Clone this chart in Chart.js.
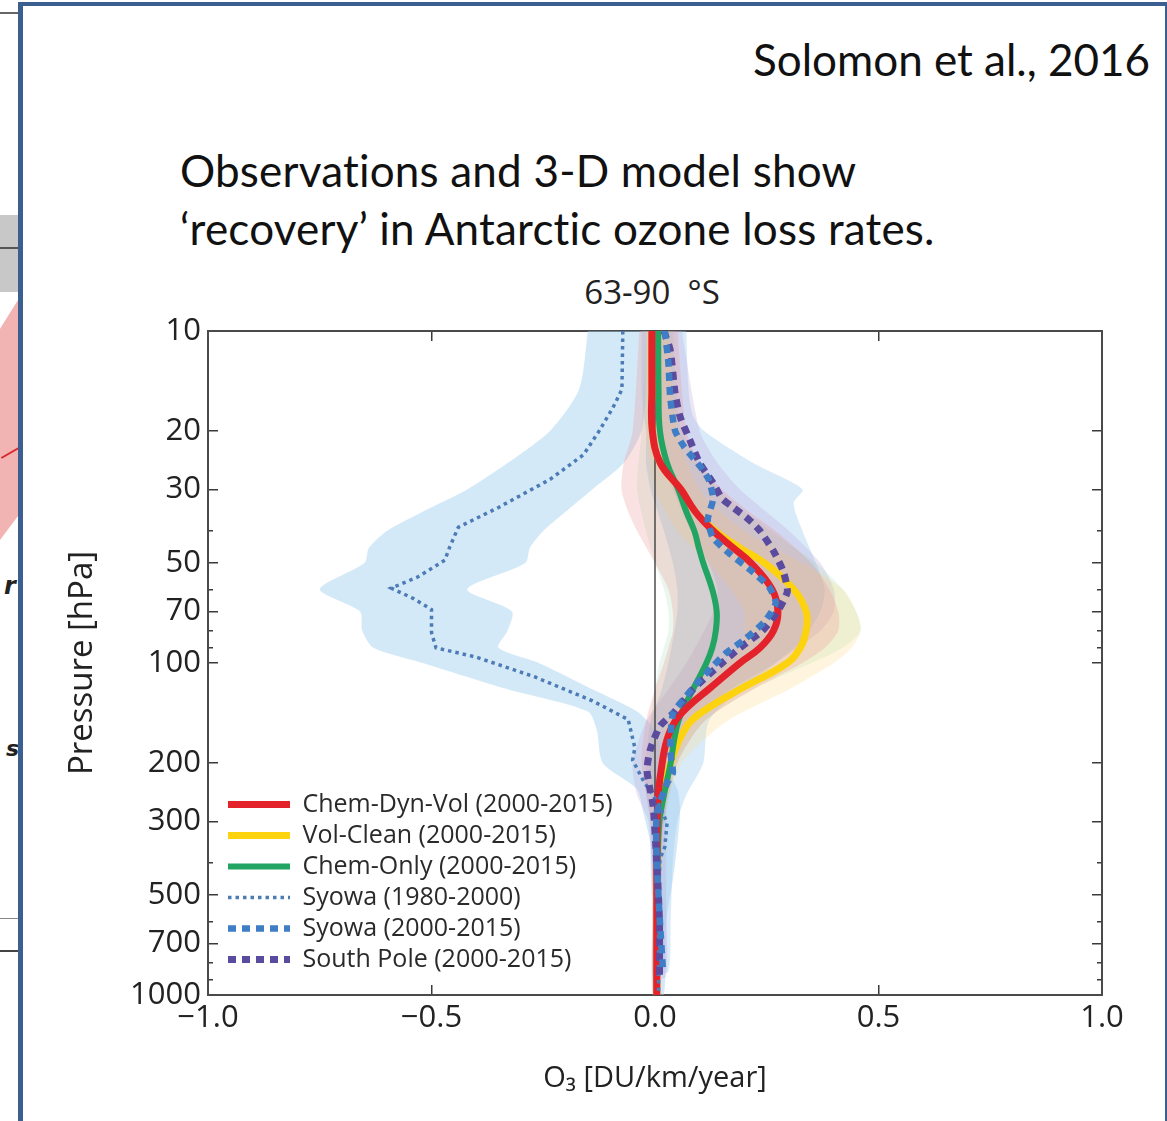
<!DOCTYPE html>
<html>
<head>
<meta charset="utf-8">
<title>Antarctic ozone loss rates</title>
<script src="https://cdn.jsdelivr.net/npm/chart.js@4/dist/chart.umd.min.js"></script>
<style>
  html, body { margin: 0; padding: 0; background: #fff; }
  body { position: relative; width: 1167px; height: 1121px; overflow: hidden; }
  .abs { position: absolute; }
  #slide { left: 18px; top: 2px; width: 1149px; height: 1140px; box-sizing: border-box;
           border-left: 5px solid #3b5f91; border-top: 4px solid #3b5f91; border-right: 2px solid #3b5f91; }
  .slideText { position: absolute; font-family: Lato, "Open Sans", sans-serif; color: #111; white-space: nowrap; }
  #cite { left: 753px; top: 37px; font-size: 44px; line-height: 44px; }
  #headline { left: 180px; top: 141px; font-size: 44px; line-height: 58px; letter-spacing: 0.2px; }
  #panelTitle { position: absolute; left: 502px; width: 300px; top: 272px; text-align: center; white-space: pre;
                font-family: "Open Sans", sans-serif; font-size: 33px; line-height: 40px; color: #222; }
  canvas { position: absolute; left: 0; top: 0; }
</style>
</head>
<body>

<!-- edge of the neighbouring slide -->
<div class="abs" style="left:0;top:12px;width:18px;height:2px;background:#666"></div>
<div class="abs" style="left:0;top:215px;width:18px;height:77px;background:#c8c8c8"></div>
<div class="abs" style="left:0;top:247px;width:18px;height:2px;background:#555"></div>
<div class="abs" style="left:0;top:300px;width:18px;height:240px;background:#f2b3b3;clip-path:polygon(0 12%,100% 0,100% 90%,0 100%)"></div>
<div class="abs" style="left:0;top:452px;width:20px;height:2px;background:#d9262b;transform:rotate(-30deg)"></div>
<div class="abs" style="left:4px;top:572px;font:italic bold 24px 'DejaVu Sans';color:#222">r</div>
<div class="abs" style="left:6px;top:736px;font:italic bold 22px 'DejaVu Sans';color:#222">s</div>
<div class="abs" style="left:0;top:918px;width:18px;height:1px;background:#888"></div>
<div class="abs" style="left:0;top:950px;width:18px;height:2px;background:#444"></div>

<div id="slide" class="abs"></div>

<div id="cite" class="slideText">Solomon et al., 2016</div>
<div id="headline" class="slideText">Observations and 3-D model show<br>‘recovery’ in Antarctic ozone loss rates.</div>
<div id="panelTitle">63-90  °S</div>

<canvas id="ozoneChart" width="1167" height="1121"></canvas>

<script>
// Ozone trend profiles, 63-90 S
// pressure in hPa, trend in DU/km/year

const yTicks = [10, 20, 30, 50, 70, 100, 200, 300, 500, 700, 1000];
const yMinorTicks = [40, 60, 80, 90, 400, 600, 800, 900];
const xTicks = [-1.0, -0.5, 0.0, 0.5, 1.0];

// model runs, 2000-2015
const modelP     = [10, 15, 20, 25, 30, 35, 40, 45, 50, 60, 70, 80, 90, 100, 120, 135, 150, 170, 200, 250, 300, 400, 500, 700, 1000];
const chemDynVol = [-0.007, -0.007, -0.006, 0.012, 0.058, 0.09, 0.13, 0.175, 0.215, 0.262, 0.275, 0.265, 0.235, 0.19, 0.12, 0.075, 0.045, 0.027, 0.016, 0.007, 0.005, 0.004, 0.004, 0.004, 0.004];
const volClean   = [-0.007, -0.007, -0.006, 0.012, 0.058, 0.09, 0.135, 0.19, 0.245, 0.31, 0.338, 0.338, 0.325, 0.296, 0.19, 0.125, 0.08, 0.055, 0.035, 0.015, 0.008, 0.005, 0.004, 0.004, 0.004];
const chemOnly   = [0.007, 0.008, 0.011, 0.027, 0.052, 0.07, 0.088, 0.098, 0.108, 0.128, 0.138, 0.136, 0.128, 0.115, 0.085, 0.066, 0.052, 0.043, 0.035, 0.02, 0.01, 0.006, 0.005, 0.004, 0.004];

// Syowa sondes 1980-2000
const syowa80P = [10, 15, 17, 20, 23.6, 28, 34, 39, 45, 49, 55, 59.5, 64, 69, 81, 90, 96, 110, 130, 148, 180, 196, 225, 270, 303, 358, 390, 500, 700, 1000];
const syowa80  = [-0.072, -0.074, -0.094, -0.125, -0.16, -0.235, -0.35, -0.44, -0.46, -0.47, -0.53, -0.59, -0.54, -0.50, -0.50, -0.49, -0.40, -0.27, -0.14, -0.06, -0.045, -0.05, -0.027, 0.011, 0.027, 0.022, 0.011, 0.008, 0.008, 0.008];

// Syowa sondes 2000-2015
const syowa00P = [10, 12.5, 15.8, 20, 22.3, 26, 28, 32, 37, 42, 47, 52, 59, 66, 75, 85, 93, 102, 115, 129, 142, 183, 214, 230, 284, 400, 600, 850];
const syowa00  = [0.022, 0.03, 0.034, 0.045, 0.065, 0.105, 0.12, 0.13, 0.118, 0.13, 0.168, 0.21, 0.255, 0.27, 0.245, 0.2, 0.16, 0.13, 0.094, 0.063, 0.04, 0.034, 0.04, 0.027, 0.004, 0.004, 0.011, 0.018];

// South Pole sondes 2000-2015
const southPoleP = [10, 11.4, 15.4, 18.1, 21.3, 25, 28.7, 32, 34, 37, 40, 46, 53, 61, 70, 80, 90, 100, 120, 142, 155, 183, 210, 241, 270, 400, 600, 880];
const southPole  = [0.02, 0.034, 0.045, 0.056, 0.078, 0.1, 0.13, 0.15, 0.175, 0.21, 0.235, 0.265, 0.287, 0.296, 0.274, 0.24, 0.19, 0.15, 0.085, 0.04, 0.011, -0.011, -0.018, -0.011, -0.004, 0.004, 0.01, 0.01];

// uncertainty ranges (lower / upper edge at each pressure)
const syowa80BandP = [10, 15, 20, 25, 30, 35, 40, 45, 50, 60, 70, 80, 90, 100, 120, 140, 160, 200, 240, 280, 350, 450, 600, 1000];
const syowa80Lo    = [-0.15, -0.17, -0.235, -0.33, -0.42, -0.52, -0.6, -0.64, -0.65, -0.75, -0.66, -0.655, -0.63, -0.52, -0.33, -0.15, -0.13, -0.117, -0.04, -0.027, -0.01, -0.005, -0.005, -0.005];
const syowa80Hi    = [-0.02, -0.02, -0.03, -0.07, -0.14, -0.2, -0.25, -0.28, -0.29, -0.42, -0.32, -0.33, -0.35, -0.26, -0.14, -0.04, 0.0, 0.02, 0.05, 0.056, 0.05, 0.04, 0.025, 0.02];

const syowa00BandP = [10, 15, 18, 20, 25, 30, 33, 40, 50, 60, 70, 85, 100, 120, 150, 200, 250, 300, 400, 600, 850];
const syowa00Lo    = [-0.03, -0.03, -0.025, -0.02, -0.02, -0.01, 0.0, 0.02, 0.04, 0.05, 0.05, 0.04, 0.03, 0.015, -0.01, -0.02, -0.02, -0.01, -0.01, -0.005, 0.0];
const syowa00Hi    = [0.07, 0.075, 0.085, 0.11, 0.22, 0.33, 0.31, 0.33, 0.36, 0.38, 0.37, 0.33, 0.27, 0.19, 0.12, 0.108, 0.07, 0.05, 0.04, 0.035, 0.03];

const southPoleBandP = [10, 20, 25, 30, 40, 50, 60, 70, 80, 100, 120, 150, 200, 250, 300, 500, 880];
const southPoleLo    = [-0.01, 0.0, 0.02, 0.04, 0.08, 0.12, 0.14, 0.13, 0.11, 0.07, 0.03, -0.02, -0.05, -0.04, -0.015, -0.005, -0.005];
const southPoleHi    = [0.06, 0.1, 0.14, 0.19, 0.3, 0.37, 0.4, 0.4, 0.37, 0.27, 0.17, 0.08, 0.03, 0.025, 0.025, 0.025, 0.025];

const chemDynVolBandP = [10, 20, 25, 30, 35, 40, 50, 60, 70, 80, 90, 100, 120, 150, 200, 300, 500, 1000];
const chemDynVolLo    = [-0.035, -0.05, -0.07, -0.075, -0.06, -0.04, 0.0, 0.03, 0.04, 0.04, 0.03, 0.02, 0.0, -0.02, -0.03, -0.01, -0.005, -0.005];
const chemDynVolHi    = [0.05, 0.07, 0.1, 0.15, 0.21, 0.27, 0.35, 0.39, 0.41, 0.41, 0.38, 0.33, 0.22, 0.11, 0.05, 0.02, 0.015, 0.012];

const volCleanBandP = [10, 20, 30, 40, 50, 60, 70, 80, 90, 100, 120, 150, 200, 300];
const volCleanLo    = [-0.02, -0.02, 0.0, 0.05, 0.12, 0.17, 0.2, 0.2, 0.19, 0.16, 0.1, 0.03, 0.01, 0.0];
const volCleanHi    = [0.03, 0.05, 0.1, 0.2, 0.33, 0.42, 0.45, 0.46, 0.44, 0.4, 0.3, 0.16, 0.06, 0.01];

const chemOnlyBandP = [10, 20, 30, 40, 50, 60, 70, 80, 90, 100, 120, 150, 200, 300];
const chemOnlyLo    = [-0.02, -0.03, -0.04, -0.02, 0.0, 0.02, 0.03, 0.03, 0.02, 0.01, 0.0, -0.01, -0.01, 0.0];
const chemOnlyHi    = [0.04, 0.06, 0.14, 0.26, 0.36, 0.42, 0.45, 0.46, 0.42, 0.35, 0.22, 0.11, 0.05, 0.02];


// helpers to turn the arrays into {x, y} points
function profile(pressures, values) {
    return pressures.map((p, i) => ({ x: values[i], y: p }));
}

// closed outline: down the lower edge, back up the upper edge
function bandShape(pressures, lo, hi) {
    const down = pressures.map((p, i) => ({ x: lo[i], y: p }));
    const up = pressures.map((p, i) => ({ x: hi[i], y: p })).reverse();
    return down.concat(up);
}

function band(pressures, lo, hi, color, order) {
    return {
        data: bandShape(pressures, lo, hi),
        backgroundColor: color,
        borderWidth: 0,
        fill: 'shape',
        tension: 0.25,
        order: order
    };
}

const datasets = [
    { label: 'Chem-Dyn-Vol (2000-2015)', data: profile(modelP, chemDynVol), borderColor: '#e3222b', borderWidth: 7, tension: 0.4, order: 3, inLegend: true },
    { label: 'Vol-Clean (2000-2015)', data: profile(modelP, volClean), borderColor: '#fdd20e', borderWidth: 7, tension: 0.4, order: 5, inLegend: true },
    { label: 'Chem-Only (2000-2015)', data: profile(modelP, chemOnly), borderColor: '#22a462', borderWidth: 6, tension: 0.4, order: 4, inLegend: true },
    { label: 'Syowa (1980-2000)', data: profile(syowa80P, syowa80), borderColor: '#4d7bb5', borderWidth: 3.5, borderDash: [3.5, 4], tension: 0, order: 2, inLegend: true },
    { label: 'Syowa (2000-2015)', data: profile(syowa00P, syowa00), borderColor: '#3f7ec6', borderWidth: 6.5, borderDash: [8, 6], tension: 0.2, order: 0, inLegend: true },
    { label: 'South Pole (2000-2015)', data: profile(southPoleP, southPole), borderColor: '#5a4b9e', borderWidth: 7, borderDash: [8, 6], tension: 0.2, order: 1, inLegend: true },
    // zero line
    { data: [{ x: 0, y: 10 }, { x: 0, y: 1000 }], borderColor: '#333', borderWidth: 1.3, order: 6 },
    band(chemDynVolBandP, chemDynVolLo, chemDynVolHi, 'rgba(240, 140, 140, 0.25)', 7),
    band(volCleanBandP, volCleanLo, volCleanHi, 'rgba(255, 210, 110, 0.22)', 8),
    band(chemOnlyBandP, chemOnlyLo, chemOnlyHi, 'rgba(140, 210, 160, 0.18)', 9),
    band(southPoleBandP, southPoleLo, southPoleHi, 'rgba(185, 160, 215, 0.28)', 10),
    band(syowa00BandP, syowa00Lo, syowa00Hi, 'rgba(160, 206, 240, 0.4)', 11),
    band(syowa80BandP, syowa80Lo, syowa80Hi, 'rgba(160, 206, 240, 0.45)', 12)
];


// axis helpers
function keepTicks(values) {
    return function (scale) { scale.ticks = values.map(v => ({ value: v })); };
}
function fixWidth(w) {
    return function (scale) { scale.width = w; };
}
function fixHeight(h) {
    return function (scale) { scale.height = h; };
}
function inwardTicks(len) {
    return { drawOnChartArea: false, drawTicks: true, tickLength: -len, color: '#3a3a3a', lineWidth: 1.5 };
}
const frame = { display: true, color: '#4a4a4a', width: 2 };
const noFrame = { display: false };


// put the legend in the lower left corner of the plot
const legendCorner = {
    id: 'legendCorner',
    afterLayout(chart) {
        const lg = chart.legend;
        const area = chart.chartArea;
        const w = lg.width;
        lg.left = area.left + 14;
        lg.right = lg.left + w;
        lg.top = area.top;
        lg.bottom = area.bottom - 17;
    }
};


function makeChart() {
    Chart.defaults.font.family = '"Open Sans", sans-serif';
    Chart.defaults.color = '#222';

    const ctx = document.getElementById('ozoneChart').getContext('2d');
    new Chart(ctx, {
        type: 'line',
        data: { datasets: datasets },
        plugins: [legendCorner],
        options: {
            responsive: false,
            maintainAspectRatio: false,
            animation: false,
            events: [],
            layout: { padding: { left: 63, right: 65, top: 331, bottom: 21 } },
            elements: { point: { radius: 0 } },
            plugins: {
                tooltip: { enabled: false },
                legend: {
                    position: 'chartArea',
                    align: 'end',
                    labels: {
                        usePointStyle: true,
                        pointStyleWidth: 62,
                        padding: 6,
                        font: { size: 25 },
                        generateLabels: function (chart) {
                            return chart.data.datasets
                                .filter(ds => ds.inLegend)
                                .map(ds => ({
                                    text: ds.label,
                                    strokeStyle: ds.borderColor,
                                    fillStyle: ds.borderColor,
                                    lineWidth: ds.borderWidth,
                                    lineDash: ds.borderDash || [],
                                    pointStyle: 'line',
                                    fontColor: '#2a2a2a',
                                    hidden: false,
                                    datasetIndex: chart.data.datasets.indexOf(ds)
                                }));
                        }
                    }
                }
            },
            scales: {
                x: {
                    type: 'linear', position: 'bottom', min: -1, max: 1,
                    afterBuildTicks: keepTicks(xTicks),
                    afterFit: fixHeight(105),
                    grid: inwardTicks(10), border: frame,
                    ticks: {
                        padding: 15, font: { size: 31 }, color: '#222',
                        callback: v => (v < 0 ? '\u2212' : '') + Math.abs(v).toFixed(1)
                    },
                    title: { display: true, text: 'O\u2083 [DU/km/year]', font: { size: 29 }, color: '#222' }
                },
                x2: {
                    type: 'linear', axis: 'x', position: 'top', min: -1, max: 1,
                    afterBuildTicks: keepTicks(xTicks),
                    afterFit: fixHeight(0),
                    grid: inwardTicks(10), border: frame,
                    ticks: { display: false }
                },
                y: {
                    type: 'logarithmic', position: 'left', min: 10, max: 1000, reverse: true, weight: 1,
                    afterBuildTicks: keepTicks(yTicks),
                    afterFit: fixWidth(145),
                    grid: inwardTicks(10), border: frame,
                    ticks: { padding: 17, font: { size: 31 }, color: '#222', callback: v => String(v) },
                    title: { display: true, text: 'Pressure [hPa]', font: { size: 33 }, color: '#222', padding: { top: 0, bottom: 4 } }
                },
                yMinor: {
                    type: 'logarithmic', axis: 'y', position: 'left', min: 10, max: 1000, reverse: true, weight: 0,
                    afterBuildTicks: keepTicks(yMinorTicks),
                    afterFit: fixWidth(0),
                    grid: inwardTicks(5), border: noFrame,
                    ticks: { display: false }
                },
                y2: {
                    type: 'logarithmic', axis: 'y', position: 'right', min: 10, max: 1000, reverse: true, weight: 0,
                    afterBuildTicks: keepTicks(yTicks),
                    afterFit: fixWidth(0),
                    grid: inwardTicks(10), border: frame,
                    ticks: { display: false }
                },
                y2Minor: {
                    type: 'logarithmic', axis: 'y', position: 'right', min: 10, max: 1000, reverse: true, weight: 1,
                    afterBuildTicks: keepTicks(yMinorTicks),
                    afterFit: fixWidth(0),
                    grid: inwardTicks(5), border: noFrame,
                    ticks: { display: false }
                }
            }
        }
    });
}

// wait for the installed fonts, then draw
Promise.all([
    document.fonts.load('31px "Open Sans"'),
    document.fonts.load('44px Lato')
]).catch(() => null).then(makeChart);
</script>
</body>
</html>
